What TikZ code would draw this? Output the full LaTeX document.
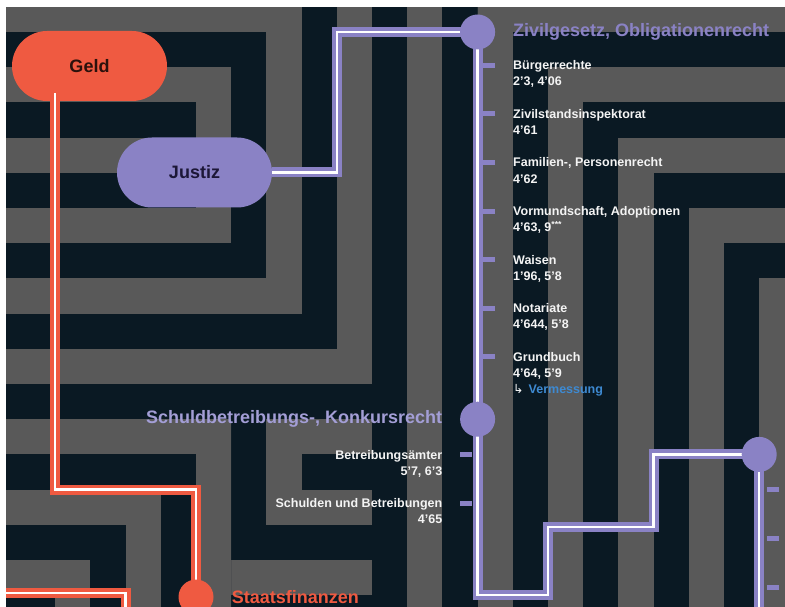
\documentclass[tikz,border=0pt]{standalone}
\usepackage{fontspec}
\setmainfont{Liberation Sans}
\newfontfamily\arrowfont{DejaVu Sans}
\usetikzlibrary{positioning, calc}

\definecolor{mazegray}{HTML}{595959}
\definecolor{mazedark}{HTML}{0A1923}
\definecolor{geldred}{HTML}{EF5A41}
\definecolor{geldtext}{HTML}{2B110C}
\definecolor{lila}{HTML}{8A82C5}
\definecolor{lilatext}{HTML}{1C1737}
\definecolor{headlila}{HTML}{A39ED6}
\definecolor{itemwhite}{HTML}{F4F4F4}
\definecolor{vermblue}{HTML}{3E8AD2}

\begin{document}
\begin{tikzpicture}[
        x=1pt, y=-1pt,
        pill/.style={rounded corners=35pt, minimum width=155pt, minimum height=70pt,
            font=\fontsize{18}{20}\selectfont\bfseries},
        stop/.style={circle, inner sep=0pt, minimum size=35pt},
        tick/.style={fill=lila, inner sep=0pt, minimum width=12pt, minimum height=5pt},
        heading/.style={inner sep=0pt, font=\fontsize{18}{20}\selectfont\bfseries},
        item/.style={inner sep=0pt, text=itemwhite, font=\fontsize{12.5}{16}\selectfont\bfseries},
        redline/.style={white, line width=2.5pt, preaction={draw=geldred, line width=10pt}},
        lilaline/.style={white, line width=2.5pt, preaction={draw=lila, line width=10pt}}
    ]
    \useasboundingbox (0,0) rectangle (785,607);
    \fill[white] (0,0) rectangle (785,607);

    % the maze behind everything
    \begin{scope}
        \clip (6,8) rectangle (785,607);
        \fill[mazedark] (6,8) rectangle (785,607);
        \begin{scope}[shift={(20,-3.2)}, x=35.2pt, y=-35.2pt]
            % rings round Justiz, open to the left
            \begin{scope}
                \clip (-1,0) rectangle (13,12);
                \foreach \ring in {13,...,0} {
                    \ifodd\ring \def\tone{mazedark}\else \def\tone{mazegray}\fi
                    \fill[\tone] (-1,4-\ring) rectangle (4+\ring,5+\ring);
                }
            \end{scope}
            % stairs down to the right
            \foreach \ring in {0,...,8} {
                \ifodd\ring \def\tone{mazedark}\else \def\tone{mazegray}\fi
                \fill[\tone] (13+\ring,\ring) rectangle (23,19);
            }
            % straight lanes at the bottom
            \fill[mazedark] (10,12) rectangle (11,19);
            \fill[mazegray] (11,12) rectangle (12,19);
            \fill[mazedark] (12,12) rectangle (13,19);
            % rings open to the right
            \begin{scope}
                \clip (6,12) rectangle (10,19);
                \foreach \ring in {6,...,0} {
                    \ifodd\ring \def\tone{mazegray}\else \def\tone{mazedark}\fi
                    \fill[\tone] (8-\ring,13-\ring) rectangle (10,14+\ring);
                }
            \end{scope}
            % corner rings, bottom left
            \begin{scope}
                \clip (-1,12) rectangle (6,19);
                \foreach \ring in {8,...,1} {
                    \ifodd\ring \def\tone{mazedark}\else \def\tone{mazegray}\fi
                    \fill[\tone] (-1,18-\ring) rectangle (\ring,20);
                }
            \end{scope}
        \end{scope}
    \end{scope}

    \node[pill, fill=geldred, text=geldtext] (geld) at (89.5,66) {Geld};
    \node[pill, fill=lila, text=lilatext] (justiz) at (194.5,172.5) {Justiz};

    % stops and bends
    \coordinate (zivil) at (477.6,32);
    \coordinate (schuld) at (477.6,419.2);
    \coordinate (lower) at (759.2,454.4);
    \coordinate (staat) at (196,597);
    \coordinate (geldfoot) at (55.2,93);
    \coordinate (geldbend) at (196,489.6);
    \coordinate (redin) at (6,593);
    \coordinate (redout) at (125.6,615);
    \coordinate (justizknee) at (336.8,32);
    \coordinate (stepa) at (548,595.2);
    \coordinate (stepb) at (653.6,527);
    \coordinate (lowerout) at (759.2,615);

    \draw[redline] (geldfoot) |- (geldbend) -- (staat);
    \draw[redline] (redin) -| (redout);
    \draw[lilaline] (justiz.east) -| (justizknee) -- (zivil);
    \draw[lilaline] (zivil) -- (schuld) |- (stepa) |- (stepb) |- (lower) -- (lowerout);

    \node[stop, fill=lila] (zivildot) at (zivil) {};
    \node[stop, fill=lila] (schulddot) at (schuld) {};
    \node[stop, fill=lila] (lowerdot) at (lower) {};
    \node[stop, fill=geldred] (staatdot) at (staat) {};

    \node[heading, text=lila, right=17.5pt of zivildot] (zivilhead) {Zivilgesetz, Obligationenrecht};
    \node[heading, text=headlila, left=17.5pt of schulddot] (schuldhead) {Schuldbetreibungs-, Konkursrecht};
    \node[heading, text=geldred, right=18pt of staatdot] (staathead) {Staatsfinanzen};

    % entries of the civil law line
    \foreach \entry/\refs [count=\i from 0] in {
            Bürgerrechte/{2'3, 4'06},
            Zivilstandsinspektorat/{4'61},
            {Familien-, Personenrecht}/{4'62},
            {Vormundschaft, Adoptionen}/{4'63, 9\textsuperscript{***}},
            Waisen/{1'96, 5'8},
            Notariate/{4'644, 5'8},
            Grundbuch/{4'64, 5'9}} {
        \node[tick] (tick\i) at (489,65.3+48.6*\i) {};
        \node[item, anchor=base west] (entry\i) at (513,69.8+48.6*\i) {\entry};
        \node[item, anchor=base west] (refs\i) at (513,85.8+48.6*\i) {\refs};
    }
    \node[item, anchor=base west, text=vermblue] (verm) at (513,393.4)
        {{\arrowfont\mdseries\color{itemwhite}↳}\hspace{5pt}Vermessung};

    % entries of the debt law line
    \foreach \entry/\refs [count=\i from 0] in {
            Betreibungsämter/{5'7, 6'3},
            {Schulden und Betreibungen}/{4'65}} {
        \node[tick] (ltick\i) at (466,454.4+48.6*\i) {};
        \node[item, anchor=base east] (lentry\i) at (442.5,459+48.6*\i) {\entry};
        \node[item, anchor=base east] (lrefs\i) at (442.5,475+48.6*\i) {\refs};
    }
    \foreach \i in {0,1,2}
        \node[tick] (rtick\i) at (772.5,489+49*\i) {};
\end{tikzpicture}
\end{document}
